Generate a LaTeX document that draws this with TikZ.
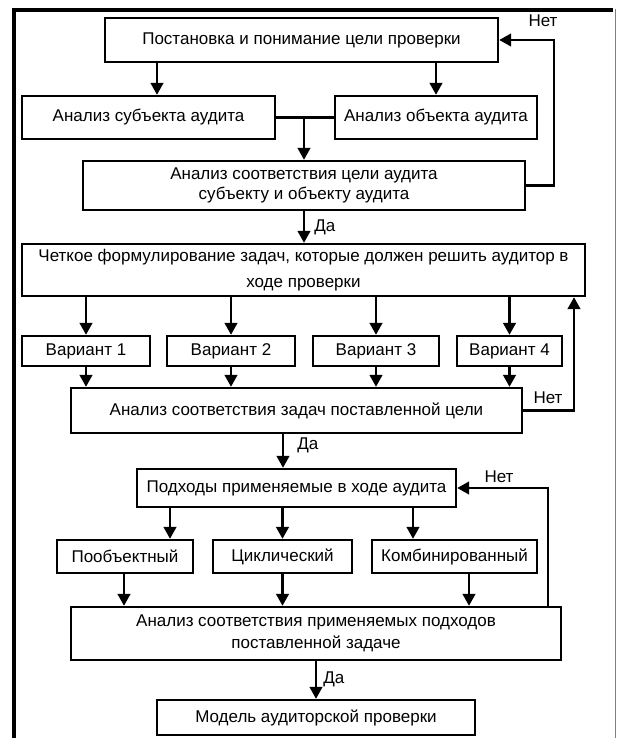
\documentclass[tikz,border=0pt]{standalone}
\usepackage{fontspec}
\setmainfont{Liberation Sans}
\usetikzlibrary{arrows.meta}
\begin{document}
\begin{tikzpicture}[x=0.75pt,y=-0.75pt,
  box/.style={draw,line width=1.8pt,inner sep=0pt,align=center,font=\fontsize{12.75}{15}\selectfont},
  wh/.style 2 args={minimum width=#1*0.75pt,minimum height=#2*0.75pt},
  arr/.style={line width=1.8pt,-{Triangle[length=9pt,width=9.5pt]}},
  ln/.style={line width=1.8pt},
  lbl/.style={inner sep=0pt,font=\fontsize{12.75}{15}\selectfont}]
\useasboundingbox (0,0) rectangle (619,738);
% frame
\draw[line width=3pt] (14,738) -- (14,10) -- (613,10);
\draw[line width=0.75pt,gray] (615,9) -- (615,738);
% boxes
\node[box,wh={393}{44}] (b1) at (301.5,40) {Постановка и понимание цели проверки};
\node[box,wh={253}{43}] (b2) at (148.5,117.5) {Анализ субъекта аудита};
\node[box,wh={202}{43}] (b3) at (436,117.5) {Анализ объекта аудита};
\node[box,wh={442}{49},font=\fontsize{12.75}{15}\selectfont] (b4) at (304,185.5) {Анализ соответствия цели аудита\\субъекту и объекту аудита};
\node[box,wh={563}{52},font=\fontsize{12.75}{19}\selectfont] (b5) at (303.5,270) {Четкое формулирование задач, которые должен решить аудитор в\\ходе проверки};
\node[box,wh={128}{30}] (v1) at (86,351) {Вариант 1};
\node[box,wh={128}{30}] (v2) at (231,351) {Вариант 2};
\node[box,wh={126}{30}] (v3) at (376,351) {Вариант 3};
\node[box,wh={105}{30}] (v4) at (509.5,351) {Вариант 4};
\node[box,wh={451}{45}] (b6) at (296.5,410.5) {Анализ соответствия задач поставленной цели};
\node[box,wh={319}{38}] (b7) at (296.5,488) {Подходы применяемые в ходе аудита};
\node[box,wh={136}{33}] (a1) at (125,556.5) {Пообъектный};
\node[box,wh={139}{33}] (a2) at (282.5,556.5) {Циклический};
\node[box,wh={165}{33}] (a3) at (454.5,556.5) {Комбинированный};
\node[box,wh={490}{53},font=\fontsize{12.75}{16.5}\selectfont] (b8) at (316,633.5) {Анализ соответствия применяемых подходов\\поставленной задаче};
\node[box,wh={318}{35}] (b9) at (316,717.5) {Модель аудиторской проверки};
% column coordinates
\coordinate (c157) at (157,0);
\coordinate (c283) at (283,0);
\coordinate (c170) at (170,0);
\coordinate (c413) at (413,0);
\coordinate (c124) at (124,0);
\coordinate (c469) at (469,0);
\coordinate (r1) at (554,0);
\coordinate (r2) at (574,0);
\coordinate (r3) at (548,0);
% top block
\draw[arr] (b1.south -| c157) -- (b2.north -| c157);
\draw[arr] (b1.south -| b3.north) -- (b3.north);
\draw[ln] (b2.east) -- (b3.west);
\draw[arr] (b2.east -| b4.north) -- (b4.north);
\draw[arr] (b4.east) -- (b4.east -| r1) -- (b1.east -| r1) -- (b1.east);
\node[lbl] (n1) at (543,21) {Нет};
\draw[arr] (b4.south) -- (b4.south |- b5.north);
\node[lbl,anchor=west] (d1) at (314,227) {Да};
% variants
\foreach \v in {v1,v2,v3,v4}{
  \draw[arr] (b5.south -| \v.north) -- (\v.north);
  \draw[arr] (\v.south) -- (\v.south |- b6.north);
}
\draw[arr] (b6.east) -- (b6.east -| r2) -- (b5.south -| r2);
\node[lbl] (n2) at (548,398) {Нет};
\draw[arr] (b6.south -| c283) -- (b7.north -| c283);
\node[lbl,anchor=west] (d2) at (297,445) {Да};
% approaches
\draw[arr] (b7.south -| c170) -- (a1.north -| c170);
\draw[arr] (b7.south -| a2.north) -- (a2.north);
\draw[arr] (b7.south -| c413) -- (a3.north -| c413);
\draw[arr] (a1.south -| c124) -- (b8.north -| c124);
\draw[arr] (a2.south) -- (a2.south |- b8.north);
\draw[arr] (a3.south -| c469) -- (b8.north -| c469);
\draw[arr] (b8.north -| r3) -- (b7.east -| r3) -- (b7.east);
\node[lbl] (n3) at (499,477) {Нет};
\draw[arr] (b8.south -| b9.north) -- (b9.north);
\node[lbl,anchor=west] (d3) at (323,679) {Да};
\end{tikzpicture}
\end{document}
